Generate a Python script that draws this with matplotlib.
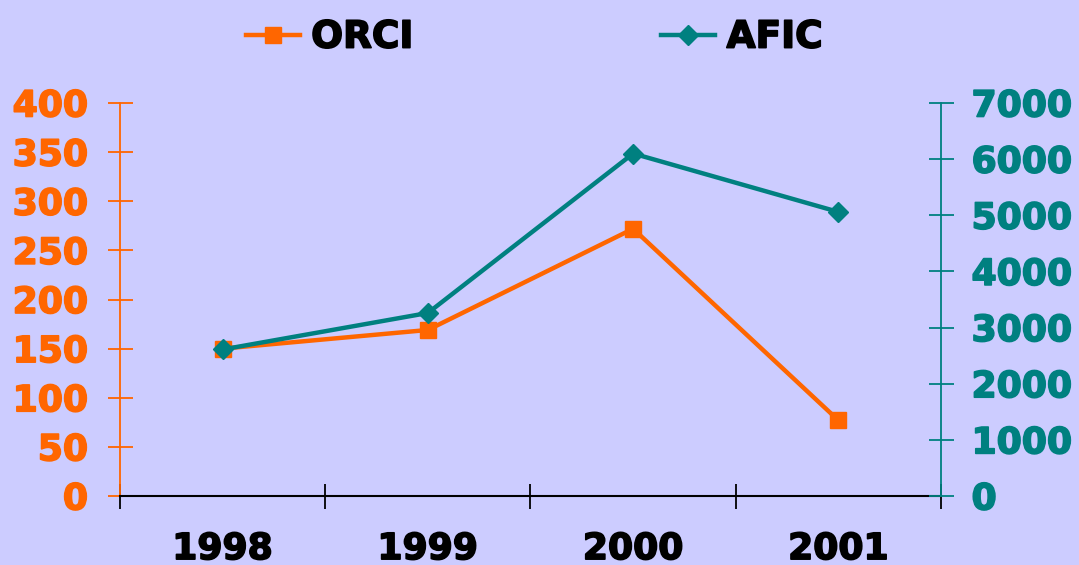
import numpy as np
import matplotlib
matplotlib.use("Agg")
import matplotlib.pyplot as plt
import matplotlib.patheffects as pe

years = ["1998", "1999", "2000", "2001"]
orci = [150, 169, 272, 77]
afic = [2610, 3260, 6100, 5060]
left_ticks = [0, 50, 100, 150, 200, 250, 300, 350, 400]
right_ticks = [0, 1000, 2000, 3000, 4000, 5000, 6000, 7000]

bg = "#CCCCFF"
orange = "#FF6600"
teal = "#008080"

fig = plt.figure(figsize=(10.79, 5.65), dpi=100, facecolor=bg)
ax = fig.add_axes([0.1112, 0.1221, 0.7609, 0.6956])
ax.set_facecolor(bg)
ax2 = ax.twinx()

x = np.arange(len(years)) + 0.5
l1, = ax.plot(x, orci, color=orange, lw=3.2, marker="s", ms=11.5, zorder=3)
l2, = ax2.plot(x, afic, color=teal, lw=3.2, marker="D", ms=10.5, zorder=3)

ax.set_xlim(0, 4)
ax.set_ylim(0, 400)
ax2.set_ylim(0, 7000)
ax.set_yticks(left_ticks)
ax2.set_yticks(right_ticks)
ax.set_xticks([0, 1, 2, 3, 4])
ax.set_xticklabels([])
ax.set_xticks(x, minor=True)
ax.set_xticklabels(years, minor=True, fontsize=26, fontweight="bold")
ax.tick_params(axis="x", which="minor", length=0, pad=26)
ax.tick_params(axis="x", which="major", direction="inout", length=18,
               width=1.3, color="black")

for s in ["top", "right"]:
    ax.spines[s].set_visible(False)
ax2.spines["top"].set_visible(False)
ax2.spines["left"].set_visible(False)
ax2.spines["bottom"].set_visible(False)
ax.spines["left"].set_color(orange)
ax.spines["left"].set_linewidth(1.3)
ax.spines["bottom"].set_color("black")
ax.spines["bottom"].set_linewidth(1.5)
ax2.spines["right"].set_color(teal)
ax2.spines["right"].set_linewidth(1.3)

ax.tick_params(axis="y", direction="inout", length=18, width=1.3,
               color=orange, labelcolor=orange, labelsize=26, pad=14)
ax2.tick_params(axis="y", direction="inout", length=18, width=1.3,
                color=teal, labelcolor=teal, labelsize=26, pad=13)
for t in ax.get_yticklabels():
    t.set_fontweight("bold")
    t.set_path_effects([pe.withStroke(linewidth=1.2, foreground=orange)])
for t in ax2.get_yticklabels():
    t.set_fontweight("bold")
    t.set_path_effects([pe.withStroke(linewidth=1.2, foreground=teal)])
for t in ax.get_xticklabels(minor=True):
    t.set_path_effects([pe.withStroke(linewidth=1.2, foreground="black")])

leg = fig.legend([l1, l2], ["ORCI", "AFIC"], loc="upper center",
                 bbox_to_anchor=(0.495, 1.025), ncol=2, frameon=False,
                 columnspacing=6.6, handlelength=1.45, handletextpad=0.3,
                 prop={"size": 27, "weight": "bold"})
for t in leg.get_texts():
    t.set_path_effects([pe.withStroke(linewidth=1.2, foreground="black")])

fig.savefig("out.png", dpi=100, facecolor=bg)
